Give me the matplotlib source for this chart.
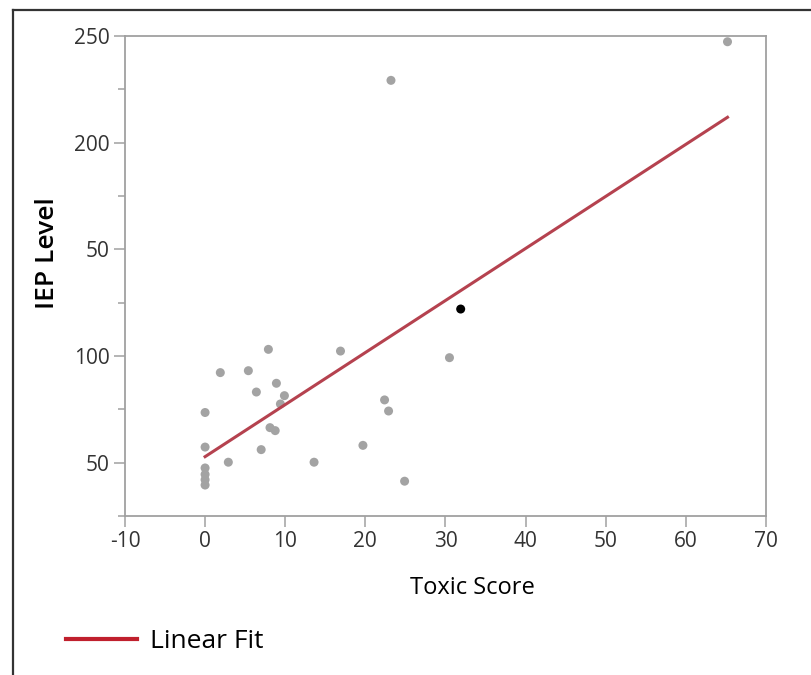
import matplotlib.pyplot as plt
import numpy as np
from matplotlib.lines import Line2D
from matplotlib.ticker import MultipleLocator

plt.rcParams['font.family'] = ['Open Sans', 'DejaVu Sans']
plt.rcParams['axes.unicode_minus'] = False

# Toxic score vs IEP level
toxic_score = [0, 0, 0, 0, 0, 0, 1.9, 2.9, 5.4, 6.4, 7.0, 7.9, 8.1, 8.75, 8.9,
               9.4, 9.9, 13.6, 16.9, 19.7, 22.4, 22.9, 24.9, 30.5, 23.2, 65.2]
iep_level = [73.5, 57.3, 47.5, 44.5, 42, 39.5, 92.2, 50.2, 93.1, 83.1, 56.1, 103.1,
             66.4, 65.0, 87.2, 77.5, 81.4, 50.2, 102.3, 58.1, 79.4, 74.2, 41.3, 99.2,
             229.2, 247.3]
# highlighted point
hl_score = [31.9]
hl_level = [122]

# linear fit as drawn
fit_intercept = 52.8
fit_slope = 2.44

x_ticks = [-10, 0, 10, 20, 30, 40, 50, 60, 70]
y_ticks = [50, 100, 150, 200, 250]
y_tick_labels = ['50', '100', '50', '200', '250']

fig = plt.figure(figsize=(8.12, 6.75), dpi=100)
ax = fig.add_axes([0.1539, 0.2356, 0.7894, 0.7111])

ax.scatter(toxic_score, iep_level, s=42, color='#a3a3a3', edgecolors='none', zorder=3)
ax.scatter(hl_score, hl_level, s=42, color='black', edgecolors='none', zorder=4)

xf = np.array([min(toxic_score), max(toxic_score)])
ax.plot(xf, fit_intercept + fit_slope * xf, color='#b5424f', lw=2.2, zorder=5)

ax.set_xlim(-10, 70)
ax.set_ylim(25, 250)
ax.set_xticks(x_ticks)
ax.set_yticks(y_ticks)
ax.set_yticklabels(y_tick_labels)
ax.yaxis.set_minor_locator(MultipleLocator(25))

for s in ax.spines.values():
    s.set_color('#a0a0a0')
    s.set_linewidth(1.3)
ax.tick_params(which='major', length=8, width=1.1, color='#a0a0a0',
               labelsize=15, labelcolor='#333333', pad=3)
ax.tick_params(which='minor', length=5, width=1.1, color='#a0a0a0')

fig.text(0.058, 0.625, 'IEP Level', rotation=90, ha='center', va='center',
         fontsize=19, fontweight='semibold', color='black')
fig.text(0.582, 0.129, 'Toxic Score', ha='center', va='center',
         fontsize=17, color='black')

# legend
handle = Line2D([0], [0], color='#c0202d', lw=3)
fig.legend([handle], ['Linear Fit'], loc='center left',
           bbox_to_anchor=(0.052, 0.049), frameon=False, fontsize=19,
           handlelength=2.7, handletextpad=0.5)

# outer frame (left and top edges)
fig.add_artist(Line2D([0.016, 0.016], [0.0, 0.985], color='#333333', lw=1.6,
                      transform=fig.transFigure))
fig.add_artist(Line2D([0.016, 1.0], [0.985, 0.985], color='#333333', lw=1.6,
                      transform=fig.transFigure))

fig.savefig('out.png', dpi=100)
